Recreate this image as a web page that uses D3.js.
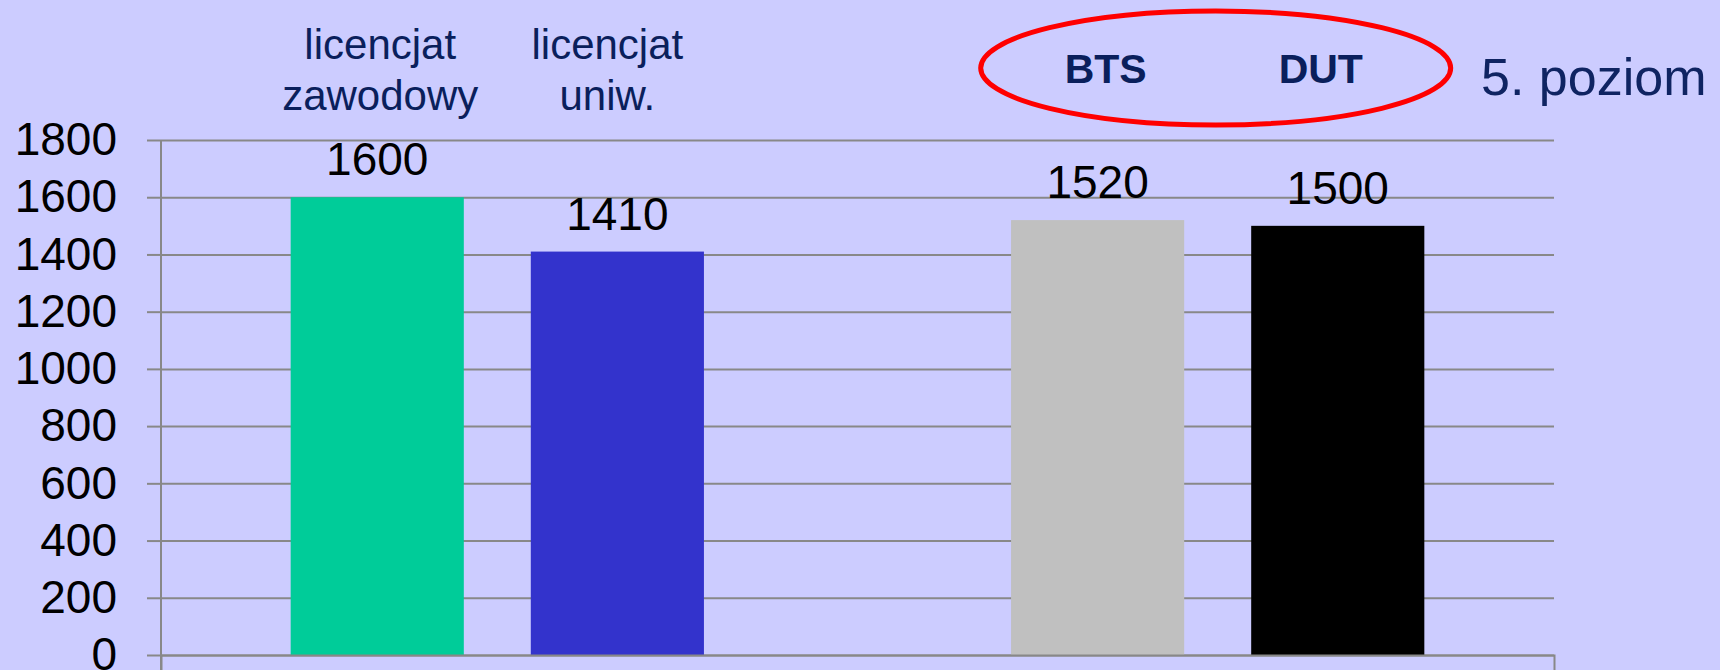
<!DOCTYPE html>
<html>
<head>
<meta charset="utf-8">
<script src="https://cdn.jsdelivr.net/npm/d3@7"></script>
<style>
  body { margin: 0; background: #ccccff; }
  svg { display: block; font-family: "Liberation Sans", Arial, sans-serif; }
</style>
</head>
<body>
<svg id="chart"></svg>
<script>
// dane
const keys = ["lic_zaw", "lic_uniw", "pusty", "BTS", "DUT"];
const values = [1600, 1410, null, 1520, 1500];
const colors = ["#00cc99", "#3333cc", "none", "#c0c0c0", "#000000"];
const topLabels = [["licencjat", "zawodowy"], ["licencjat", "uniw."], [], ["BTS"], ["DUT"]];
const yTicks = [0, 200, 400, 600, 800, 1000, 1200, 1400, 1600, 1800];
const levelLabel = "5. poziom";

const W = 1720, H = 670;
const plot = { left: 161, right: 1554, top: 140, bottom: 655 };

const svg = d3.select("#chart").attr("width", W).attr("height", H);

svg.append("rect").attr("width", W).attr("height", H).attr("fill", "#ccccff");

const x = d3.scaleBand().domain(keys).range([plot.left, plot.right])
  .paddingInner(0.279).paddingOuter(0.54);
const y = d3.scaleLinear().domain([0, 1800]).range([plot.bottom, plot.top]);

// siatka
svg.append("g")
  .attr("transform", `translate(${plot.left},0)`)
  .call(d3.axisLeft(y).tickValues(yTicks).tickSize(-(plot.right - plot.left)).tickFormat(""))
  .call(g => g.select(".domain").remove())
  .call(g => g.selectAll("line").attr("stroke", "#888").attr("stroke-width", 2));

// os y
const yAxis = svg.append("g")
  .attr("transform", `translate(${plot.left},0)`)
  .call(d3.axisLeft(y).tickValues(yTicks).tickFormat(d3.format("d"))
    .tickSize(14).tickSizeOuter(0).tickPadding(30));
yAxis.select(".domain").remove();
yAxis.selectAll("line").attr("stroke", "#888").attr("stroke-width", 2);
yAxis.selectAll("text")
  .attr("font-size", "46px")
  .attr("fill", "#000")
  .attr("font-family", "Liberation Sans, Arial, sans-serif");
svg.append("line")
  .attr("x1", plot.left).attr("x2", plot.left).attr("y1", plot.top).attr("y2", H)
  .attr("stroke", "#888").attr("stroke-width", 2);

// slupki
const data = keys.map((k, i) => ({ key: k, value: values[i], color: colors[i] }))
  .filter(d => d.value != null);

svg.selectAll(".bar").data(data).enter().append("rect")
  .attr("x", d => x(d.key))
  .attr("y", d => y(d.value))
  .attr("width", x.bandwidth())
  .attr("height", d => y(0) - y(d.value))
  .attr("fill", d => d.color);

// os x
const xAxis = svg.append("g")
  .attr("transform", `translate(0,${plot.bottom})`)
  .call(d3.axisBottom(x).tickValues([]).tickSizeOuter(16));
xAxis.select(".domain").attr("stroke", "#888").attr("stroke-width", 2);

// etykiety wartosci
svg.selectAll(".val").data(data).enter().append("text")
  .attr("x", d => x(d.key) + x.bandwidth() / 2)
  .attr("y", d => y(d.value) - 22)
  .attr("text-anchor", "middle")
  .attr("font-size", "46px")
  .attr("fill", "#000")
  .text(d => d.value);

// podpisy nad wykresem
const labelShift = { lic_zaw: 3, lic_uniw: -10, BTS: 8, DUT: -17 };
keys.forEach((k, i) => {
  const lines = topLabels[i];
  if (!lines.length) return;
  const cx = x(k) + x.bandwidth() / 2 + (labelShift[k] || 0);
  const bold = lines.length === 1;
  const t = svg.append("text")
    .attr("x", cx)
    .attr("text-anchor", "middle")
    .attr("fill", "#0a1f5c")
    .attr("font-size", bold ? "41px" : "42px")
    .attr("font-weight", bold ? "bold" : "normal");
  if (bold) {
    t.attr("y", 83).text(lines[0]);
  } else {
    lines.forEach((s, j) => t.append("tspan").attr("x", cx).attr("y", 59 + j * 51).text(s));
  }
});

// elipsa wokol BTS i DUT
const ex = (x("BTS") + x("DUT") + x.bandwidth()) / 2;
svg.append("ellipse")
  .attr("cx", ex - 2).attr("cy", 68)
  .attr("rx", 235).attr("ry", 57)
  .attr("fill", "none")
  .attr("stroke", "#ff0000")
  .attr("stroke-width", 5);

svg.append("text")
  .attr("x", 1481).attr("y", 95)
  .attr("font-size", "52px")
  .attr("fill", "#0f2462")
  .text(levelLabel);
</script>
</body>
</html>
